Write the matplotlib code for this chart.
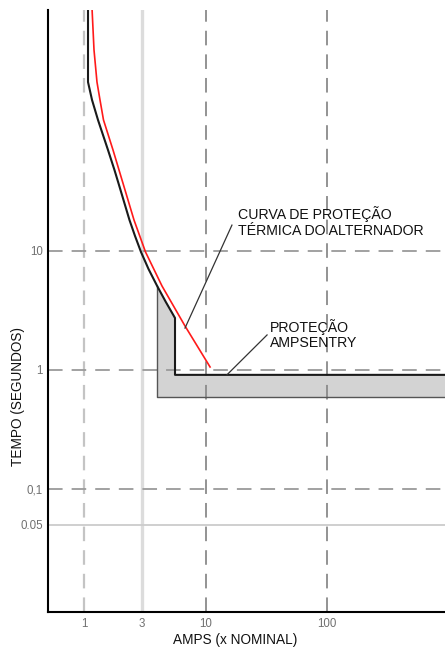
import numpy as np
import matplotlib
matplotlib.use("Agg")
import matplotlib.pyplot as plt

plt.rcParams['font.family'] = ['Liberation Sans', 'DejaVu Sans']
plt.rcParams['lines.scale_dashes'] = False

# ---- data ----
black_amps = [1.079, 1.079, 1.164, 1.304, 1.576, 1.782, 1.941, 2.368, 2.630,
              2.945, 3.395, 4.0, 4.713, 5.61]
black_time = [1100, 263, 186.2, 126.2, 70.6, 47.9, 35.9, 18.2, 13.37,
              9.81, 7.06, 5.08, 3.73, 2.735]

red_amps = [1.164, 1.209, 1.279, 1.354, 1.447, 1.733, 2.114, 2.580, 3.208,
            4.385, 6.78, 10.9]
red_time = [1100, 489, 263, 186.2, 126.2, 70.6, 35.9, 18.2, 9.81,
            5.08, 2.343, 1.06]

band_left_amps = 4.0
band_inner_amps = 5.61
band_end_amps = 2000
band_time_low = 0.59
band_time_high = 0.91

x_ticks = [1, 3, 10, 100]
x_ticklabels = ["1", "3", "10", "100"]
y_ticks = [10, 1, 0.1, 0.05]
y_ticklabels = ["10", "1", "0,1", "0.05"]

# leader lines (pointed point, text anchor) in data coords
leader1 = [(6.78, 2.25), (16.5, 16.5)]
leader2 = [(15.0, 0.91), (32.1, 1.97)]

W, H = 445, 647
fig = plt.figure(figsize=(W / 100, H / 100), dpi=100)
ax = fig.add_axes([48 / W, 35 / H, (W - 48) / W, 602 / H])
ax.set_xscale('log')
ax.set_yscale('log')
ax.set_xlim(0.5056, 935)
ax.set_ylim(0.00925, 1060)

# grid lines
dash = (0, (10.5, 6.5))
ax.axvline(1, color='#c4c4c4', lw=1.6, ls=dash, zorder=3)
ax.axvline(3, color='#dcdcdc', lw=2.4, zorder=1)
ax.axvline(10, color='#8a8a8a', lw=1.3, ls=dash, zorder=3)
ax.axvline(100, color='#8a8a8a', lw=1.3, ls=dash, zorder=3)
for yv in [10, 1, 0.1]:
    ax.axhline(yv, color='#9a9a9a', lw=1.3, ls=dash, zorder=3)
ax.axhline(0.05, color='#cccccc', lw=1.3, zorder=1)

# band polygon (upper edge follows the black curve between band_left and band_inner)
i0 = black_amps.index(band_left_amps)
bx = black_amps[i0:] + [band_inner_amps, band_end_amps, band_end_amps, band_left_amps]
by = black_time[i0:] + [band_time_high, band_time_high, band_time_low, band_time_low]
ax.fill(bx, by, facecolor='#d3d3d3', edgecolor='none', zorder=2)
ax.plot([band_left_amps, band_left_amps, band_end_amps],
        [black_time[i0], band_time_low, band_time_low], color='#555555', lw=1.0, zorder=4)

# black curve + band inner edge
ax.plot(black_amps + [band_inner_amps, band_end_amps],
        black_time + [band_time_high, band_time_high],
        color='#1a1a1a', lw=1.5, zorder=5)
# red curve
ax.plot(red_amps, red_time, color='#ff1a1a', lw=1.2, zorder=6)

# leader lines
for (p, q) in [leader1, leader2]:
    ax.plot([p[0], q[0]], [p[1], q[1]], color='#333333', lw=0.9, zorder=6)

# spines
for s in ['top', 'right']:
    ax.spines[s].set_visible(False)
ax.spines['left'].set_linewidth(1.5)
ax.spines['bottom'].set_linewidth(1.5)
ax.spines['left'].set_zorder(7)
ax.spines['bottom'].set_zorder(7)

ax.set_xticks(x_ticks)
ax.set_xticklabels(x_ticklabels)
ax.set_yticks(y_ticks)
ax.set_yticklabels(y_ticklabels)
ax.minorticks_off()
ax.tick_params(axis='both', length=0, labelsize=8.3, labelcolor='#707070')
ax.tick_params(axis='x', pad=4.5)
ax.tick_params(axis='y', pad=3.6)

def ftxt(x, y, s, **kw):
    fig.text(x / W, 1 - y / H, s, **kw)

ftxt(235, 640, "AMPS (x NOMINAL)", ha='center', va='center', fontsize=9.8, color='#111111')
ftxt(18, 397, "TEMPO (SEGUNDOS)", ha='center', va='center', rotation=90, fontsize=9.8, color='#111111')

ftxt(238, 219, "CURVA DE PROTEÇÃO", ha='left', va='baseline', fontsize=10.2, color='#111111')
ftxt(238, 235, "TÉRMICA DO ALTERNADOR", ha='left', va='baseline', fontsize=10.2, color='#111111')
ftxt(270, 332, "PROTEÇÃO", ha='left', va='baseline', fontsize=10.2, color='#111111')
ftxt(270, 347, "AMPSENTRY", ha='left', va='baseline', fontsize=10.2, color='#111111')

fig.savefig("out.png", dpi=100)
